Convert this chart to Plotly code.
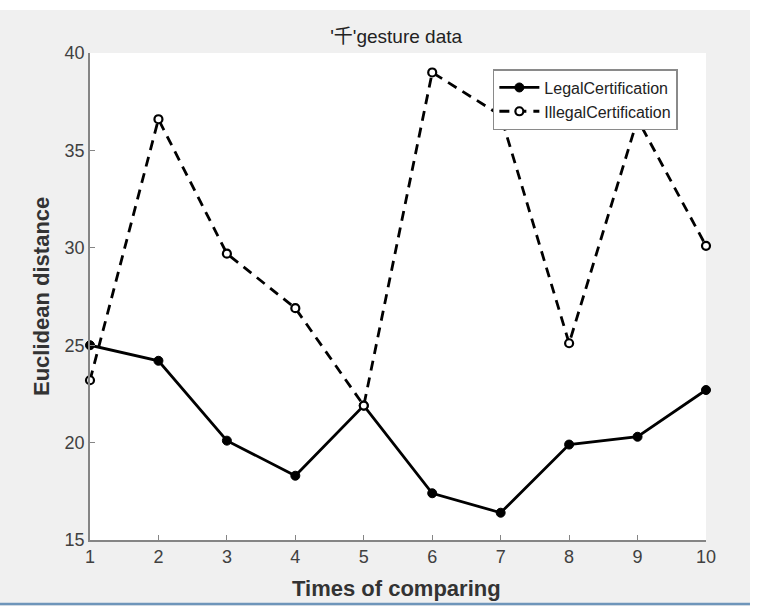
import plotly.graph_objects as go

times = [1, 2, 3, 4, 5, 6, 7, 8, 9, 10]
legal = [25.0, 24.2, 20.1, 18.3, 21.9, 17.4, 16.4, 19.9, 20.3, 22.7]
illegal = [23.2, 36.6, 29.7, 26.9, 21.9, 39.0, 36.8, 25.1, 36.6, 30.1]
x_ticks = [1, 2, 3, 4, 5, 6, 7, 8, 9, 10]
y_ticks = [15, 20, 25, 30, 35, 40]

FONT = "Liberation Sans, Arial, Helvetica, sans-serif"

fig = go.Figure()
fig.add_trace(go.Scatter(
    x=times, y=legal, name="LegalCertification", mode="lines+markers",
    line=dict(color="black", width=2.8),
    marker=dict(symbol="circle", size=9, color="black", line=dict(color="black", width=1)),
    cliponaxis=False,
))
fig.add_trace(go.Scatter(
    x=times, y=illegal, name="IllegalCertification", mode="lines+markers",
    line=dict(color="black", width=2.8, dash="10px,7px"),
    marker=dict(symbol="circle", size=8, color="white", line=dict(color="black", width=2.2)),
    cliponaxis=False,
))

axis_common = dict(
    showline=True, linecolor="#858585", linewidth=1.5, mirror=False,
    ticks="inside", ticklen=5, tickcolor="#858585", tickwidth=1,
    showgrid=False, zeroline=False,
    tickfont=dict(family=FONT, size=18, color="#404040"),
)

fig.update_layout(
    width=769, height=606,
    margin=dict(l=90, r=63, t=53, b=66),
    paper_bgcolor="#F0F0F0", plot_bgcolor="white",
    font=dict(family=FONT),
    title=dict(text="'千'gesture data", x=0.497, xref="paper", xanchor="center",
               y=1 - 36 / 606, yref="container", yanchor="middle",
               font=dict(family=FONT + ", Noto Sans CJK SC", size=19, color="#222")),
    xaxis=dict(range=[1, 10], tickvals=x_ticks, **axis_common),
    yaxis=dict(range=[15, 40], tickvals=y_ticks, **axis_common),
    showlegend=True,
    legend=dict(x=0.654, y=0.967, xanchor="left", yanchor="top",
                bgcolor="white", bordercolor="#8a8a8a", borderwidth=1.5,
                font=dict(family=FONT, size=16, color="#222"),
                itemwidth=40, tracegroupgap=0),
    annotations=[
        dict(text="<b>Euclidean distance</b>", xref="paper", yref="paper",
             x=-0.0779, y=0.499, xanchor="center", yanchor="middle",
             textangle=-90, showarrow=False,
             font=dict(family=FONT, size=22, color="#333")),
        dict(text="<b>Times of comparing</b>", xref="paper", yref="paper",
             x=0.4976, y=-0.0986, xanchor="center", yanchor="middle", showarrow=False,
             font=dict(family=FONT, size=22, color="#333")),
    ],
    shapes=[
        dict(type="rect", xref="paper", yref="paper", x0=-0.2, x1=1.3,
             y0=1.0883, y1=1.2, fillcolor="white", line=dict(width=0), layer="above"),
        dict(type="rect", xref="paper", yref="paper", x0=1.0714, x1=1.3,
             y0=-0.2, y1=1.2, fillcolor="white", line=dict(width=0), layer="above"),
        dict(type="line", xref="paper", yref="paper", x0=-0.2, x1=1.0714,
             y0=-0.1314, y1=-0.1314, line=dict(color="#6E95BA", width=2.5), layer="above"),
    ],
)

fig.write_html("out.html", config={"displayModeBar": False},
               post_script="document.body.style.margin='0';")
